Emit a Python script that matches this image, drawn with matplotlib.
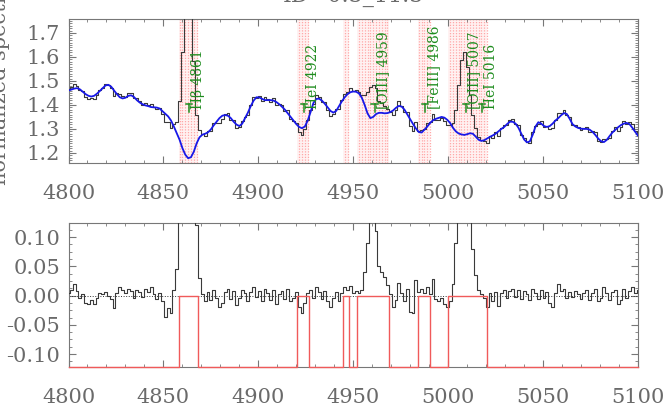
import numpy as np
import matplotlib
matplotlib.use('Agg')
import matplotlib.pyplot as plt
from matplotlib.ticker import MultipleLocator, FormatStrFormatter

# pixel grid of the spectrum (1.5 A pixels, 4800-5100 A)
wave_start = 4800.0
wave_step = 1.5
n_pix = 201

# best-fit model (blue curve)
model = [
    1.460, 1.464, 1.468, 1.470, 1.465, 1.455, 1.445, 1.438, 1.435, 1.438,
    1.447, 1.458, 1.470, 1.481, 1.484, 1.476, 1.460, 1.445, 1.432, 1.427,
    1.430, 1.438, 1.440, 1.433, 1.420, 1.410, 1.403, 1.398, 1.395, 1.391,
    1.390, 1.389, 1.385, 1.374, 1.363, 1.352, 1.335, 1.310, 1.282, 1.255,
    1.220, 1.193, 1.178, 1.182, 1.205, 1.240, 1.265, 1.276, 1.280, 1.286,
    1.298, 1.315, 1.330, 1.345, 1.355, 1.358, 1.355, 1.345, 1.330, 1.318,
    1.312, 1.322, 1.345, 1.368, 1.395, 1.418, 1.432, 1.431, 1.425, 1.420,
    1.420, 1.420, 1.418, 1.412, 1.403, 1.392, 1.380, 1.365, 1.350, 1.335,
    1.320, 1.308, 1.303, 1.310, 1.335, 1.370, 1.408, 1.425, 1.426, 1.418,
    1.405, 1.390, 1.375, 1.368, 1.375, 1.395, 1.415, 1.432, 1.445, 1.453,
    1.456, 1.455, 1.448, 1.430, 1.400, 1.365, 1.345, 1.350, 1.362, 1.367,
    1.367, 1.365, 1.366, 1.370, 1.377, 1.388, 1.396, 1.393, 1.380, 1.360,
    1.340, 1.320, 1.302, 1.287, 1.285, 1.297, 1.310, 1.325, 1.336, 1.342,
    1.346, 1.350, 1.347, 1.338, 1.325, 1.305, 1.290, 1.281, 1.277, 1.275,
    1.278, 1.282, 1.280, 1.268, 1.255, 1.250, 1.253, 1.260, 1.267, 1.273,
    1.280, 1.290, 1.300, 1.308, 1.320, 1.330, 1.330, 1.322, 1.305, 1.280,
    1.256, 1.244, 1.248, 1.275, 1.310, 1.328, 1.322, 1.312, 1.308, 1.312,
    1.322, 1.335, 1.345, 1.357, 1.366, 1.362, 1.342, 1.320, 1.310, 1.304,
    1.301, 1.300, 1.300, 1.297, 1.288, 1.275, 1.260, 1.249, 1.245, 1.254,
    1.270, 1.285, 1.296, 1.307, 1.316, 1.322, 1.325, 1.320, 1.305, 1.288,
    1.272,
]

resid = [
    0.005, 0.010, 0.020, 0.008, -0.004, 0.002, -0.012, -0.015, -0.008, -0.014,
    -0.004, 0.004, 0.002, 0.006, 0.000, -0.006, -0.022, 0.004, 0.015, 0.010,
    0.004, 0.012, 0.008, -0.004, 0.010, 0.006, -0.002, 0.012, 0.006, 0.014,
    0.002, -0.006, 0.004, -0.010, -0.036, -0.022, -0.030, 0.010, 0.045, 0.160,
    0.400, 0.620, 0.720, 0.620, 0.380, 0.120, 0.030, 0.002, -0.010, 0.006,
    -0.008, 0.010, -0.004, -0.020, -0.012, 0.006, 0.012, -0.006, 0.008, -0.016,
    -0.004, 0.010, 0.004, -0.010, 0.006, 0.014, -0.002, 0.008, -0.010, 0.012,
    0.004, -0.008, 0.010, -0.014, 0.002, 0.008, -0.006, 0.012, -0.010, -0.004,
    0.006, -0.020, -0.030, -0.012, 0.004, 0.010, -0.004, 0.015, 0.006, -0.006,
    0.008, -0.010, -0.020, -0.004, 0.006, -0.010, 0.004, 0.014, 0.010, 0.016,
    0.004, 0.008, 0.005, 0.010, 0.040, 0.090, 0.130, 0.135, 0.110, 0.050,
    0.040, 0.032, 0.018, 0.002, -0.020, -0.008, 0.022, 0.004, -0.010, 0.012,
    -0.028, -0.030, 0.026, 0.006, 0.012, 0.004, 0.014, 0.002, 0.028, -0.006,
    -0.010, -0.004, -0.014, -0.020, -0.010, 0.020, 0.090, 0.200, 0.310, 0.345,
    0.280, 0.160, 0.080, 0.035, 0.010, 0.002, -0.004, -0.020, 0.004, -0.010,
    0.006, -0.018, 0.004, 0.010, -0.004, 0.008, 0.012, -0.002, 0.010, -0.006,
    0.008, 0.002, -0.008, 0.012, 0.004, -0.006, 0.010, -0.004, 0.006, -0.012,
    -0.020, 0.004, 0.020, 0.008, 0.012, -0.004, 0.006, -0.002, 0.008, 0.002,
    -0.006, 0.004, 0.010, -0.008, 0.004, 0.012, -0.010, -0.004, 0.015, 0.004,
    -0.008, 0.006, 0.010, -0.014, -0.008, 0.012, -0.004, 0.008, 0.014, 0.004,
    0.010,
]

# masked wavelength windows
mask_lo = [4858.4, 4920.4, 4944.8, 4952.2, 4984.0, 5000.1]
mask_hi = [4868.1, 4926.9, 4947.9, 4968.9, 4990.5, 5020.6]

# line identifications
line_obs = [4863.6, 4924.2, 4961.2, 4988.0, 5009.2, 5018.0]
line_names = ['H\u03b2 4861', 'HeI 4922', '[OIII] 4959', '[FeIII] 4986',
              '[OIII] 5007', 'HeI 5016']

wave = wave_start + wave_step * np.arange(n_pix)
model = np.array(model)
resid = np.array(resid)
obs = model + resid

in_mask = np.zeros(n_pix, dtype=bool)
for a, b in zip(mask_lo, mask_hi):
    in_mask |= (wave >= a) & (wave <= b)

plt.rcParams['font.family'] = 'DejaVu Serif'
plt.rcParams['axes.unicode_minus'] = False

axis_col = '#777777'
text_col = '#6a6a6a'
green = '#1e8c1e'

fig = plt.figure(figsize=(6.69, 4.07), dpi=100)
ax1 = fig.add_axes([0.1024, 0.5995, 0.8513, 0.3538])
ax2 = fig.add_axes([0.1024, 0.0983, 0.8513, 0.3538])

top_lo, top_hi = 1.158, 1.758
bot_lo, bot_hi = -0.122, 0.124

# top panel: spectrum + model
for a, b in zip(mask_lo, mask_hi):
    ax1.axvspan(a, b, color='#fff2f2', lw=0, zorder=0)
ax1.vlines(wave[in_mask], top_lo, top_hi, colors='#ffa8a8',
           linestyles=(0, (1, 1.2)), lw=0.9, zorder=1)
ax1.plot(wave, obs, drawstyle='steps-mid', color='#3a3a3a', lw=0.8, zorder=3)
ax1.plot(wave, model, color='#1818e8', lw=1.3, zorder=4)
for lam, name in zip(line_obs, line_names):
    ax1.plot([lam - 1.6, lam + 1.6], [1.405, 1.405], color=green, lw=1.1, zorder=5)
    ax1.plot([lam, lam], [1.37, 1.405], color=green, lw=1.1, zorder=5)
    ax1.text(lam + 4.6, 1.383, name, rotation=90, ha='center', va='bottom',
             color=green, fontsize=10, zorder=6)
ax1.set_ylim(top_lo, top_hi)
ax1.yaxis.set_major_locator(MultipleLocator(0.1))
ax1.yaxis.set_minor_locator(MultipleLocator(0.01))
ax1.yaxis.set_major_formatter(FormatStrFormatter('%.1f'))

# bottom panel: residuals + mask
ax2.axhline(0, color='#333333', lw=0.7, ls=':', zorder=2)
ax2.plot(wave, resid, drawstyle='steps-mid', color='#3a3a3a', lw=0.8, zorder=3)
red_x = [wave_start]
red_y = [bot_lo]
for a, b in zip(mask_lo, mask_hi):
    red_x += [a, a, b, b]
    red_y += [bot_lo, 0, 0, bot_lo]
red_x.append(5100)
red_y.append(bot_lo)
ax2.plot(red_x, red_y, color='#f05a5a', lw=1.0, zorder=4, clip_on=False)
ax2.set_ylim(bot_lo, bot_hi)
ax2.yaxis.set_major_locator(MultipleLocator(0.05))
ax2.yaxis.set_minor_locator(MultipleLocator(0.0125))
ax2.yaxis.set_major_formatter(FormatStrFormatter('%.2f'))

for ax in (ax1, ax2):
    ax.set_xlim(4800, 5100)
    ax.xaxis.set_major_locator(MultipleLocator(50))
    ax.xaxis.set_minor_locator(MultipleLocator(10))
    ax.tick_params(which='both', direction='in', top=True, right=True,
                   colors=axis_col, labelcolor=text_col, labelsize=15)
    ax.tick_params(which='major', length=5, width=0.8)
    ax.tick_params(which='minor', length=2.5, width=0.6)
    ax.tick_params(axis='x', pad=15)
    ax.tick_params(axis='y', pad=6)
    for s in ax.spines.values():
        s.set_color(axis_col)
        s.set_linewidth(0.8)

ax2.set_xlabel('Wavelength (\u00c5)', fontsize=15, color=text_col)
ax2.xaxis.set_label_coords(0.43, -0.29)

fig.text(0.529, 0.983, 'ID=0.5_11.5', ha='center', va='bottom',
         fontsize=16, color=text_col)
fig.text(0.015, 0.545, 'normalized spectra', rotation=90, ha='right',
         va='bottom', fontsize=15, color=text_col)

fig.savefig('out.png', dpi=100)
